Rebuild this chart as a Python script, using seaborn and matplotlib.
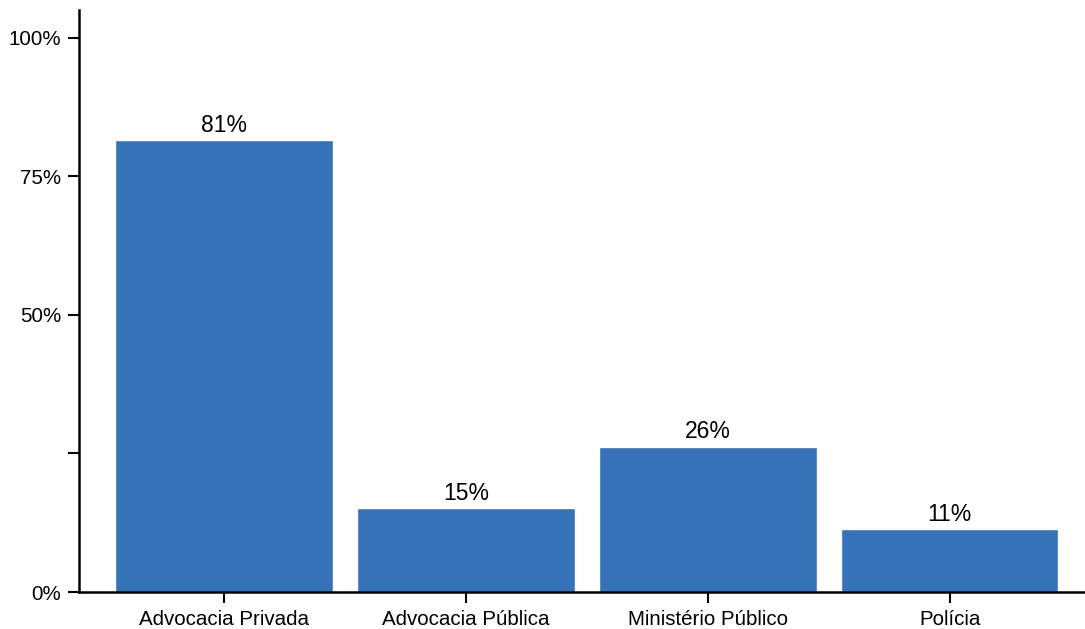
import matplotlib
matplotlib.use('Agg')
import matplotlib.pyplot as plt
import seaborn as sns
import pandas as pd
from matplotlib.ticker import FixedLocator

categories = ['Advocacia Privada', 'Advocacia Pública', 'Ministério Público', 'Polícia']
shares = [0.815, 0.151, 0.262, 0.113]
value_labels = ['81%', '15%', '26%', '11%']
y_ticks = [0, 0.25, 0.5, 0.75, 1.0]
y_ticklabels = ['0%', '', '50%', '75%', '100%']

sns.set_style('ticks')
plt.rcParams['font.family'] = ['Liberation Sans', 'DejaVu Sans']

df = pd.DataFrame({'categoria': categories, 'share': shares})

fig = plt.figure(figsize=(10.85, 6.29), dpi=100)
ax = fig.add_axes([0.0728, 0.0588, 0.9272, 0.9253])

sns.barplot(data=df, x='categoria', y='share', color='#3572B8', saturation=1,
            width=0.9, ax=ax)

for bar, lab in zip(ax.patches, value_labels):
    ax.text(bar.get_x() + bar.get_width() / 2, bar.get_height() + 0.006, lab,
            ha='center', va='bottom', fontsize=16.5, color='black')

ax.set_xlim(-0.6, 3.56)
ax.set_ylim(0, 1.05)
ax.yaxis.set_major_locator(FixedLocator(y_ticks))
ax.set_yticklabels(y_ticklabels)
ax.set_xlabel('')
ax.set_ylabel('')
ax.tick_params(axis='both', length=8, width=1.5, color='black', labelsize=14.8,
               labelcolor='black', pad=5)
for s in ['left', 'bottom']:
    ax.spines[s].set_linewidth(1.8)
    ax.spines[s].set_color('black')
sns.despine(ax=ax)

fig.savefig('out.png', dpi=100)
